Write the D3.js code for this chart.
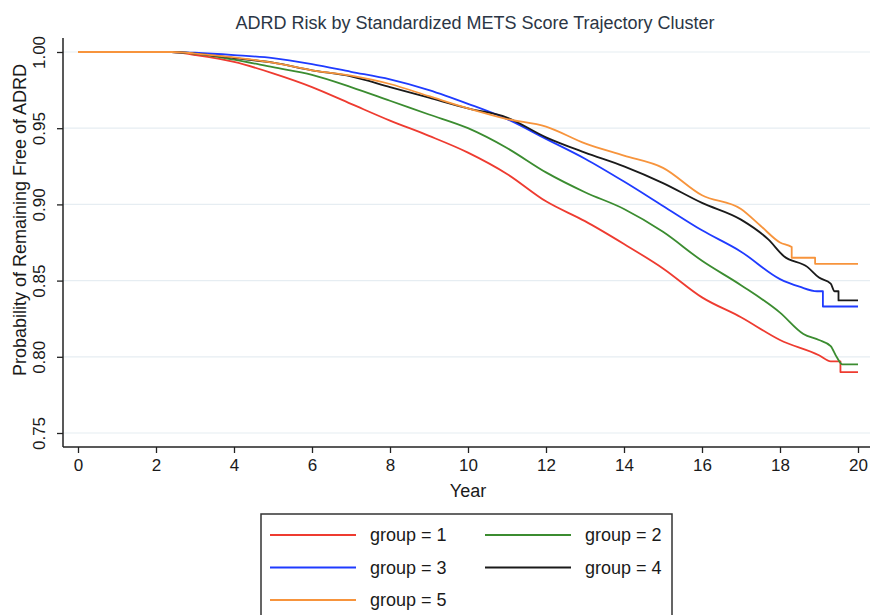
<!DOCTYPE html>
<html>
<head>
<meta charset="utf-8">
<script src="https://cdn.jsdelivr.net/npm/d3@7"></script>
<style>
  body { margin: 0; background: #fff; }
  text { font-family: "Liberation Sans", Arial, sans-serif; }
</style>
</head>
<body>
<div id="chart"></div>
<script>
// Kaplan-Meier style curves: [year, survival]
const group1 = [[0,1],[2.4,1],[3,0.998],[4,0.9935],[5,0.986],[6,0.977],[7,0.966],[8,0.955],[9,0.945],[10,0.934],
  [11,0.920],[12,0.902],[13,0.889],[14,0.874],[15,0.858],[16,0.839],[17,0.826],[18,0.811],[19,0.801],
  [19.3,0.797],[19.55,0.797],[19.55,0.790],[20,0.790]];
const group2 = [[0,1],[2.4,1],[3,0.999],[4,0.995],[5,0.990],[6,0.985],[7,0.977],[8,0.968],[9,0.959],[10,0.950],
  [11,0.937],[12,0.921],[13,0.908],[14,0.897],[15,0.882],[16,0.863],[17,0.847],[18,0.829],[18.6,0.815],
  [19,0.811],[19.3,0.807],[19.45,0.800],[19.6,0.795],[20,0.795]];
const group3 = [[0,1],[2.4,1],[3,0.9995],[4,0.998],[5,0.996],[6,0.992],[7,0.987],[8,0.982],[9,0.975],[10,0.966],
  [11,0.956],[12,0.943],[13,0.930],[14,0.915],[15,0.899],[16,0.883],[17,0.869],[18,0.851],[18.5,0.846],
  [18.95,0.843],[19.1,0.843],[19.1,0.833],[20,0.833]];
const group4 = [[0,1],[2.4,1],[3,0.999],[4,0.996],[5,0.993],[6,0.988],[7,0.984],[8,0.977],[9,0.970],[10,0.963],
  [11,0.957],[12,0.944],[13,0.934],[14,0.925],[15,0.914],[16,0.901],[17,0.890],[17.7,0.877],[18.1,0.866],
  [18.7,0.859],[19,0.852],[19.3,0.848],[19.4,0.843],[19.5,0.843],[19.5,0.837],[20,0.837]];
const group5 = [[0,1],[2.4,1],[3,0.999],[4,0.9965],[5,0.993],[6,0.988],[7,0.9845],[8,0.979],[9,0.971],[10,0.963],
  [11,0.956],[12,0.951],[13,0.940],[14,0.932],[15,0.924],[16,0.906],[17,0.897],[17.5,0.886],[18,0.875],
  [18.3,0.872],[18.3,0.865],[18.9,0.865],[18.9,0.861],[20,0.861]];

const groupNames = ["group = 1", "group = 2", "group = 3", "group = 4", "group = 5"];
const groupColors = ["#ee3b30", "#3b8c30", "#1f3bff", "#1a1a1a", "#f7943c"];
const xTicks = [0, 2, 4, 6, 8, 10, 12, 14, 16, 18, 20];
const yTicks = [0.75, 0.80, 0.85, 0.90, 0.95, 1.00];

const series = [group1, group2, group3, group4, group5];

const W = 870, H = 615;
const svg = d3.select("#chart").append("svg")
  .attr("width", W).attr("height", H);

const x = d3.scaleLinear().domain([0, 20]).range([78, 858]);
const y = d3.scaleLinear().domain([0.75, 1.0]).range([433, 52]);
const axisLeft = 63, axisBottom = 447, axisTop = 38, axisRight = 870;

// title
svg.append("text")
  .attr("x", 475).attr("y", 29)
  .attr("text-anchor", "middle")
  .attr("font-size", 18)
  .attr("fill", "#2b3645")
  .text("ADRD Risk by Standardized METS Score Trajectory Cluster");

// gridlines
svg.append("g").selectAll("line")
  .data(yTicks)
  .join("line")
  .attr("x1", axisLeft).attr("x2", axisRight)
  .attr("y1", d => y(d)).attr("y2", d => y(d))
  .attr("stroke", "#e6edf2").attr("stroke-width", 1.2);

// axes
const gx = svg.append("g")
  .attr("transform", `translate(0,${axisBottom})`)
  .call(d3.axisBottom(x).tickValues(xTicks).tickSize(6).tickPadding(6).tickFormat(d3.format("d")));
gx.select(".domain").remove();
gx.selectAll("line").attr("stroke", "#222").attr("stroke-width", 1.3);
gx.selectAll("text").attr("font-size", 17).attr("fill", "#1a1a1a")
  .attr("font-family", "'Liberation Sans', Arial, sans-serif");

const gy = svg.append("g")
  .attr("transform", `translate(${axisLeft},0)`)
  .call(d3.axisLeft(y).tickValues(yTicks).tickSize(6).tickFormat(d3.format(".2f")));
gy.select(".domain").remove();
gy.selectAll("line").attr("stroke", "#222").attr("stroke-width", 1.3);
gy.selectAll("text")
  .attr("font-size", 17).attr("fill", "#1a1a1a")
  .attr("font-family", "'Liberation Sans', Arial, sans-serif")
  .attr("text-anchor", "middle")
  .attr("x", 0).attr("dy", 0)
  .attr("transform", "translate(-22,0) rotate(-90)")
  .attr("dominant-baseline", "middle");

svg.append("line")
  .attr("x1", axisLeft).attr("x2", axisLeft)
  .attr("y1", axisTop).attr("y2", axisBottom)
  .attr("stroke", "#222").attr("stroke-width", 1.5);
svg.append("line")
  .attr("x1", axisLeft).attr("x2", axisRight)
  .attr("y1", axisBottom).attr("y2", axisBottom)
  .attr("stroke", "#222").attr("stroke-width", 1.5);

// axis titles
svg.append("text")
  .attr("x", 468).attr("y", 497)
  .attr("text-anchor", "middle")
  .attr("font-size", 18).attr("fill", "#1a1a1a")
  .text("Year");
svg.append("text")
  .attr("transform", "translate(21,220) rotate(-90)")
  .attr("text-anchor", "middle")
  .attr("dominant-baseline", "middle")
  .attr("font-size", 18).attr("fill", "#1a1a1a")
  .text("Probability of Remaining Free of ADRD");

// curves
const line = d3.line()
  .x(d => x(d[0]))
  .y(d => y(d[1]))
  .curve(d3.curveMonotoneX);

svg.append("g").selectAll("path")
  .data(series)
  .join("path")
  .attr("d", line)
  .attr("fill", "none")
  .attr("stroke", (d, i) => groupColors[i])
  .attr("stroke-width", 1.8)
  .attr("stroke-linejoin", "round");

// legend
const legend = svg.append("g");
legend.append("rect")
  .attr("x", 261).attr("y", 514)
  .attr("width", 411).attr("height", 120)
  .attr("fill", "#fff").attr("stroke", "#333").attr("stroke-width", 1.5);

const item = legend.selectAll("g.item")
  .data(groupNames)
  .join("g")
  .attr("class", "item")
  .attr("transform", (d, i) => `translate(${i % 2 === 0 ? 270 : 485},${535 + Math.floor(i / 2) * 32.5})`);
item.append("line")
  .attr("x1", 0).attr("x2", 86)
  .attr("stroke", (d, i) => groupColors[i])
  .attr("stroke-width", 1.8);
item.append("text")
  .attr("x", 100).attr("dy", "0.35em")
  .attr("font-size", 18).attr("fill", "#1a1a1a")
  .text(d => d);
</script>
</body>
</html>
